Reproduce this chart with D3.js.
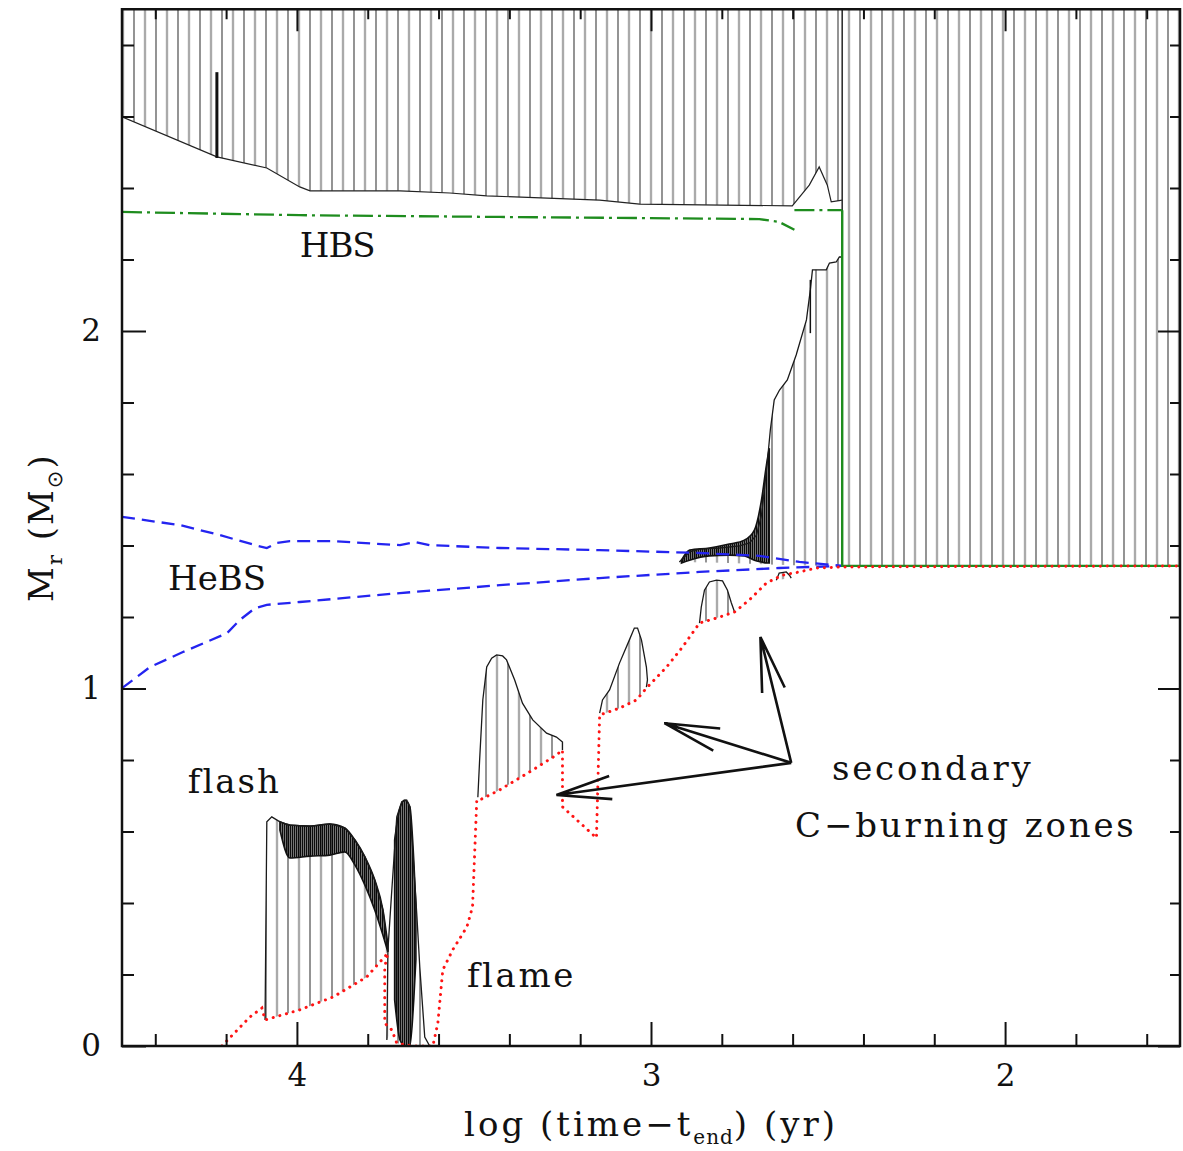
<!DOCTYPE html>
<html>
<head>
<meta charset="utf-8">
<script src="https://cdn.jsdelivr.net/npm/d3@7"></script>
<style>
  body { margin: 0; background: #fff; }
  svg { display: block; }
  text { font-family: "DejaVu Serif", "Liberation Serif", serif; fill: #111; }
</style>
</head>
<body>
<div id="wrapper"></div>
<script>
// x = log(time - t_end) [yr], y = Mr [Msun]

// upper convective envelope, lower boundary (hatched up to the top)
const envelopeBase = [
  [4.494, 2.599], [4.226, 2.487], [4.085, 2.456], [3.992, 2.403], [3.963, 2.392],
  [3.709, 2.392], [3.568, 2.386], [3.464, 2.378], [3.145, 2.366], [3.032, 2.355],
  [2.601, 2.350], [2.553, 2.408], [2.525, 2.459], [2.502, 2.408], [2.491, 2.361],
  [2.460, 2.366], [2.460, 1.343], [1.500, 1.343]
]

// convective core growing just before the end
const coreTop = [
  [2.920, 1.354], [2.891, 1.382], [2.863, 1.390], [2.807, 1.393], [2.750, 1.399],
  [2.722, 1.407], [2.702, 1.429], [2.688, 1.485], [2.680, 1.555], [2.671, 1.639],
  [2.663, 1.723], [2.652, 1.807], [2.637, 1.835], [2.615, 1.863], [2.590, 1.933],
  [2.561, 2.031], [2.550, 2.115], [2.544, 2.171], [2.505, 2.171], [2.496, 2.190],
  [2.477, 2.193], [2.468, 2.207], [2.460, 2.207]
]
const coreBottom = [[2.920, 1.354], [2.800, 1.352], [2.700, 1.348], [2.600, 1.345], [2.460, 1.343]]

// C flash and secondary C-burning convective zones
const flashTop = [
  [4.090, 0.073], [4.087, 0.408], [4.085, 0.627], [4.071, 0.641], [4.048, 0.627],
  [4.020, 0.618], [3.963, 0.615], [3.907, 0.621], [3.865, 0.610], [3.836, 0.576],
  [3.808, 0.529], [3.780, 0.464], [3.757, 0.380], [3.743, 0.265]
]
const flashBottom = [[4.090, 0.073], [3.992, 0.101], [3.898, 0.137], [3.803, 0.193], [3.743, 0.265]]

const flash2Top = [
  [3.746, 0.017], [3.743, 0.269], [3.732, 0.436], [3.718, 0.641], [3.704, 0.683],
  [3.690, 0.688], [3.681, 0.669], [3.673, 0.548], [3.661, 0.361], [3.653, 0.221],
  [3.639, 0.025], [3.625, 0.000]
]
const flash2Bottom = [[3.746, 0.017], [3.732, 0.045], [3.718, 0.008], [3.673, 0.000], [3.625, 0.000]]

const zone1Top = [
  [3.489, 0.696], [3.484, 0.800], [3.475, 0.968], [3.464, 1.060], [3.450, 1.085],
  [3.436, 1.094], [3.419, 1.091], [3.408, 1.080], [3.385, 1.024], [3.363, 0.959],
  [3.334, 0.912], [3.295, 0.875], [3.267, 0.864], [3.250, 0.850], [3.250, 0.828]
]
const zone1Bottom = [[3.489, 0.696], [3.484, 0.688], [3.428, 0.716], [3.334, 0.772], [3.267, 0.814], [3.250, 0.828]]

const zone2Top = [
  [3.145, 0.931], [3.137, 0.968], [3.117, 0.996], [3.089, 1.071], [3.061, 1.136],
  [3.047, 1.169], [3.038, 1.169], [3.027, 1.136], [3.013, 1.060], [3.010, 1.024],
  [3.013, 1.004]
]
const zone2Bottom = [[3.145, 0.926], [3.089, 0.945], [3.041, 0.968], [3.013, 1.004]]

const zone3Top = [
  [2.863, 1.183], [2.858, 1.228], [2.849, 1.275], [2.835, 1.298], [2.815, 1.303],
  [2.798, 1.301], [2.784, 1.275], [2.773, 1.239], [2.764, 1.214]
]
const zone3Bottom = [[2.863, 1.183], [2.815, 1.197], [2.764, 1.214]]

const zone4Top = [[2.646, 1.303], [2.638, 1.323], [2.618, 1.326], [2.609, 1.317], [2.604, 1.309]]
const zone4Bottom = [[2.646, 1.303], [2.604, 1.309]]

// dense (noisy) convective boundaries: [x, upper, lower]
const flashNoise = [
  [4.048, 0.627, 0.604], [4.020, 0.618, 0.526], [3.963, 0.615, 0.531], [3.907, 0.621, 0.534],
  [3.865, 0.610, 0.543], [3.836, 0.576, 0.506], [3.808, 0.529, 0.450], [3.780, 0.464, 0.380],
  [3.757, 0.380, 0.310], [3.743, 0.283, 0.263]
]
const flash2Noise = [
  [3.724, 0.576, 0.129], [3.709, 0.666, 0.017], [3.695, 0.688, 0.000], [3.681, 0.669, 0.000],
  [3.670, 0.520, 0.129], [3.664, 0.394, 0.241]
]
const coreNoise = [
  [2.914, 1.359, 1.351], [2.891, 1.387, 1.359], [2.835, 1.393, 1.371], [2.779, 1.404, 1.373],
  [2.736, 1.415, 1.371], [2.708, 1.443, 1.359], [2.688, 1.527, 1.354], [2.674, 1.625, 1.351],
  [2.666, 1.672, 1.351]
]
// single spikes: [x, y0, y1]
const spikes = [[4.226, 2.484, 2.724], [2.550, 1.994, 2.143]]

// H-burning shell
const hbsDashed = [
  [4.494, 2.333], [3.992, 2.324], [3.427, 2.319], [3.032, 2.316], [2.694, 2.313],
  [2.638, 2.305], [2.595, 2.283]
]
const hbsLate = [[2.595, 2.338], [2.460, 2.338]]
const hbsFinal = [[2.460, 2.338], [2.460, 1.343], [1.500, 1.343]]

// He-burning shell, upper and lower edges
const hebsUpper = [
  [4.494, 1.480], [4.330, 1.457], [4.217, 1.429], [4.118, 1.401], [4.085, 1.393],
  [4.056, 1.407], [4.020, 1.412], [3.898, 1.412], [3.709, 1.401], [3.667, 1.410],
  [3.625, 1.401], [3.427, 1.393], [3.145, 1.387], [2.863, 1.379], [2.694, 1.371],
  [2.581, 1.354], [2.460, 1.343]
]
const hebsLower = [
  [4.494, 1.001], [4.415, 1.060], [4.322, 1.102], [4.197, 1.155], [4.161, 1.192],
  [4.118, 1.225], [4.085, 1.234], [3.992, 1.242], [3.709, 1.267], [3.427, 1.289],
  [3.145, 1.309], [2.863, 1.326], [2.638, 1.337], [2.460, 1.343]
]

// carbon flame (red dotted)
const flameLine = [
  [4.212, 0.000], [4.133, 0.081], [4.099, 0.106], [4.090, 0.073], [3.992, 0.101],
  [3.898, 0.137], [3.803, 0.193], [3.743, 0.260], [3.752, 0.221], [3.752, 0.064],
  [3.732, 0.045], [3.718, 0.008], [3.673, 0.000], [3.616, 0.000], [3.602, 0.064],
  [3.588, 0.213], [3.560, 0.269], [3.520, 0.333], [3.504, 0.389], [3.492, 0.688],
  [3.484, 0.688], [3.428, 0.716], [3.334, 0.772], [3.267, 0.814], [3.250, 0.828],
  [3.250, 0.669], [3.154, 0.582], [3.145, 0.926], [3.089, 0.945], [3.041, 0.968],
  [3.013, 1.001], [2.956, 1.060], [2.911, 1.116], [2.863, 1.183], [2.815, 1.197],
  [2.764, 1.214], [2.722, 1.248], [2.674, 1.295], [2.629, 1.317], [2.581, 1.326],
  [2.533, 1.337], [2.460, 1.340], [1.500, 1.343]
]

const arrowOrigin = [2.604, 0.792]
const arrowTips = [[3.267, 0.702], [2.962, 0.903], [2.691, 1.144]]

const xMajorTicks = [4, 3, 2]
const xMinorTicks = [4.4, 4.2, 3.8, 3.6, 3.4, 3.2, 2.8, 2.6, 2.4, 2.2, 1.8, 1.6]
const yMajorTicks = [0, 1, 2]
const yMinorTicks = [0.2, 0.4, 0.6, 0.8, 1.2, 1.4, 1.6, 1.8, 2.2, 2.4, 2.6, 2.8]

// 1. dimensions

const dimensions = {
  width: 1183,
  height: 1151,
  margin: { top: 9, right: 3, bottom: 105, left: 122 },
}
dimensions.boundedWidth = dimensions.width - dimensions.margin.left - dimensions.margin.right
dimensions.boundedHeight = dimensions.height - dimensions.margin.top - dimensions.margin.bottom

// 2. canvas

const wrapper = d3.select("#wrapper")
  .append("svg")
    .attr("width", dimensions.width)
    .attr("height", dimensions.height)

const defs = wrapper.append("defs")

const hatch = defs.append("pattern")
    .attr("id", "hatch")
    .attr("patternUnits", "userSpaceOnUse")
    .attr("width", 22)
    .attr("height", 10)
hatch.append("line")
    .attr("x1", 2).attr("x2", 2).attr("y1", 0).attr("y2", 10)
    .attr("stroke", "#3a3a3a").attr("stroke-width", 1.1)
hatch.append("line")
    .attr("x1", 13).attr("x2", 13).attr("y1", 0).attr("y2", 10)
    .attr("stroke", "#aaaaaa").attr("stroke-width", 2.4)

// dense black hatching for the noisy boundaries
const dense = defs.append("pattern")
    .attr("id", "dense")
    .attr("patternUnits", "userSpaceOnUse")
    .attr("width", 2)
    .attr("height", 10)
dense.append("line")
    .attr("x1", 0.8).attr("x2", 0.8).attr("y1", 0).attr("y2", 10)
    .attr("stroke", "#000").attr("stroke-width", 1.5)

defs.append("clipPath")
    .attr("id", "plot-clip")
  .append("rect")
    .attr("x", dimensions.margin.left)
    .attr("y", dimensions.margin.top)
    .attr("width", dimensions.boundedWidth)
    .attr("height", dimensions.boundedHeight)

// 3. scales

const xScale = d3.scaleLinear()
    .domain([4.494, 1.506])
    .range([dimensions.margin.left, dimensions.margin.left + dimensions.boundedWidth])

const yScale = d3.scaleLinear()
    .domain([0, 2.9])
    .range([dimensions.height - dimensions.margin.bottom, dimensions.height - dimensions.margin.bottom - 2.9 * 357.5])

const lineGenerator = d3.line()
    .x(d => xScale(d[0]))
    .y(d => yScale(d[1]))

const zonePath = (top, bottom) => lineGenerator(top.concat(bottom.slice().reverse())) + "Z"

// 4. data

const plot = wrapper.append("g").attr("clip-path", "url(#plot-clip)")

const envelopeArea = d3.area()
    .x(d => xScale(d[0]))
    .y0(d => yScale(d[1]))
    .y1(yScale(3.0))

plot.append("path")
    .attr("d", envelopeArea(envelopeBase))
    .attr("fill", "url(#hatch)")

const zones = [
  [coreTop, coreBottom], [flashTop, flashBottom], [flash2Top, flash2Bottom],
  [zone1Top, zone1Bottom], [zone2Top, zone2Bottom], [zone3Top, zone3Bottom], [zone4Top, zone4Bottom],
]
zones.forEach(([top, bottom]) => {
  plot.append("path")
      .attr("d", zonePath(top, bottom))
      .attr("fill", "url(#hatch)")
})

const noiseArea = d3.area()
    .x(d => xScale(d[0]))
    .y0(d => yScale(d[2]))
    .y1(d => yScale(d[1]))
    .curve(d3.curveMonotoneX)

;[flashNoise, flash2Noise, coreNoise].forEach(band => {
  const sorted = band.slice().sort((a, b) => a[0] - b[0])
  plot.append("path")
      .attr("d", noiseArea(sorted))
      .attr("fill", "url(#dense)")
  plot.append("path")
      .attr("d", noiseArea(sorted))
      .attr("fill", "none")
      .attr("stroke", "#111")
      .attr("stroke-width", 1.6)
})

// zone outlines
plot.append("path")
    .attr("d", lineGenerator(envelopeBase.slice(0, 16)))
    .attr("fill", "none").attr("stroke", "#222").attr("stroke-width", 1.2)

;[coreTop, flashTop, flash2Top, zone1Top, zone2Top, zone3Top, zone4Top].forEach(top => {
  plot.append("path")
      .attr("d", lineGenerator(top))
      .attr("fill", "none").attr("stroke", "#1a1a1a").attr("stroke-width", 1.3)
})

spikes.forEach(([x, y0, y1], i) => {
  plot.append("line")
      .attr("x1", xScale(x)).attr("x2", xScale(x))
      .attr("y1", yScale(y0)).attr("y2", yScale(y1))
      .attr("stroke", "#111").attr("stroke-width", i == 0 ? 3 : 1.5)
})

// last model edge
plot.append("line")
    .attr("x1", xScale(2.460)).attr("x2", xScale(2.460))
    .attr("y1", yScale(3.0)).attr("y2", yScale(1.343))
    .attr("stroke", "#333").attr("stroke-width", 1.6)

// He-burning shell
;[hebsUpper, hebsLower].forEach(d => {
  plot.append("path")
      .attr("d", lineGenerator(d))
      .attr("fill", "none")
      .attr("stroke", "#2424f0")
      .attr("stroke-width", 2.3)
      .attr("stroke-dasharray", "13,7")
})

// H-burning shell
;[hbsDashed, hbsLate].forEach(d => {
  plot.append("path")
      .attr("d", lineGenerator(d))
      .attr("fill", "none")
      .attr("stroke", "#1e8c1e")
      .attr("stroke-width", 2.3)
      .attr("stroke-dasharray", "20,5,3,5")
})
plot.append("path")
    .attr("d", lineGenerator(hbsFinal))
    .attr("fill", "none")
    .attr("stroke", "#1e8c1e")
    .attr("stroke-width", 2.4)

// carbon flame
plot.append("path")
    .attr("d", lineGenerator(flameLine))
    .attr("fill", "none")
    .attr("stroke", "#ff1414")
    .attr("stroke-width", 3)
    .attr("stroke-linecap", "round")
    .attr("stroke-dasharray", "0.1,6.8")

// 5. peripherals

const axisBottomY = yScale(0)
const axisTopY = yScale(2.9)
const axisLeftX = xScale(4.494)
const axisRightX = xScale(1.506)

const axes = wrapper.append("g")
    .style("font-family", "'DejaVu Serif', serif")

const styleAxis = g => {
  g.select(".domain").remove()
  g.selectAll(".tick line").attr("stroke", "#111").attr("stroke-width", 2)
  g.selectAll(".tick text").attr("font-size", 31).attr("fill", "#111")
}

axes.append("g")
    .attr("transform", `translate(0, ${axisBottomY})`)
    .call(d3.axisBottom(xScale).tickValues(xMajorTicks).tickSize(-24).tickPadding(18).tickFormat(d3.format("d")))
    .call(styleAxis)
axes.append("g")
    .attr("transform", `translate(0, ${axisBottomY})`)
    .call(d3.axisBottom(xScale).tickValues(xMinorTicks).tickSize(-12).tickFormat(""))
    .call(styleAxis)
axes.append("g")
    .attr("transform", `translate(0, ${axisTopY})`)
    .call(d3.axisTop(xScale).tickValues(xMajorTicks).tickSize(-22).tickFormat(""))
    .call(styleAxis)
axes.append("g")
    .attr("transform", `translate(0, ${axisTopY})`)
    .call(d3.axisTop(xScale).tickValues(xMinorTicks).tickSize(-10).tickFormat(""))
    .call(styleAxis)

axes.append("g")
    .attr("transform", `translate(${axisLeftX}, 0)`)
    .call(d3.axisLeft(yScale).tickValues(yMajorTicks).tickSize(-24).tickPadding(21).tickFormat(d3.format("d")))
    .call(styleAxis)
axes.append("g")
    .attr("transform", `translate(${axisLeftX}, 0)`)
    .call(d3.axisLeft(yScale).tickValues(yMinorTicks).tickSize(-12).tickFormat(""))
    .call(styleAxis)
axes.append("g")
    .attr("transform", `translate(${axisRightX}, 0)`)
    .call(d3.axisRight(yScale).tickValues(yMajorTicks).tickSize(-22).tickFormat(""))
    .call(styleAxis)
axes.append("g")
    .attr("transform", `translate(${axisRightX}, 0)`)
    .call(d3.axisRight(yScale).tickValues(yMinorTicks).tickSize(-10).tickFormat(""))
    .call(styleAxis)

wrapper.append("rect")
    .attr("x", axisLeftX)
    .attr("y", axisTopY)
    .attr("width", axisRightX - axisLeftX)
    .attr("height", axisBottomY - axisTopY)
    .attr("fill", "none")
    .attr("stroke", "#111")
    .attr("stroke-width", 2.5)

// axis titles
const xTitle = wrapper.append("text")
    .attr("x", (axisLeftX + axisRightX) / 2)
    .attr("y", 1136)
    .attr("text-anchor", "middle")
    .attr("font-size", 34)
    .attr("letter-spacing", 3)
xTitle.append("tspan").text("log (time\u2212t")
xTitle.append("tspan").attr("font-size", 20).attr("dy", 8).attr("letter-spacing", 1).text("end")
xTitle.append("tspan").attr("dy", -8).text(") (yr)")

const yTitle = wrapper.append("text")
    .attr("transform", `translate(53, ${yScale(1.45)}) rotate(-90)`)
    .attr("text-anchor", "middle")
    .attr("font-size", 34)
    .attr("letter-spacing", 2)
yTitle.append("tspan").text("M")
yTitle.append("tspan").attr("font-size", 21).attr("dy", 9).text("r")
yTitle.append("tspan").attr("dy", -9).text(" (M")
yTitle.append("tspan").attr("font-size", 21).attr("dy", 9).style("font-family", "'DejaVu Sans', sans-serif").text("\u2299")
yTitle.append("tspan").attr("dy", -9).text(")")

// annotations
const annotations = wrapper.append("g")
    .attr("font-size", 34)

const addLabel = (text, x, y, spacing) => annotations.append("text")
    .attr("x", xScale(x))
    .attr("y", yScale(y))
    .attr("letter-spacing", spacing)
    .text(text)

addLabel("HBS", 3.992, 2.207, -1)
addLabel("HeBS", 4.364, 1.276, 0)
addLabel("flash", 4.308, 0.708, 2)
addLabel("flame", 3.520, 0.165, 2.6)
addLabel("secondary", 2.489, 0.744, 2.8)
addLabel("C\u2212burning zones", 2.593, 0.585, 2.8)

// arrows
const [ox, oy] = [xScale(arrowOrigin[0]), yScale(arrowOrigin[1])]
const wingLength = 56
const wingAngle = 12 * Math.PI / 180
arrowTips.forEach(tip => {
  const tx = xScale(tip[0])
  const ty = yScale(tip[1])
  const back = Math.atan2(oy - ty, ox - tx)
  const wings = [back - wingAngle, back + wingAngle].map(a => [
    tx + Math.cos(a) * wingLength,
    ty + Math.sin(a) * wingLength,
  ])
  annotations.append("path")
      .attr("d", `M${ox},${oy}L${tx},${ty}M${wings[0][0]},${wings[0][1]}L${tx},${ty}L${wings[1][0]},${wings[1][1]}`)
      .attr("fill", "none")
      .attr("stroke", "#111")
      .attr("stroke-width", 2.6)
      .attr("stroke-linejoin", "miter")
})
</script>
</body>
</html>
